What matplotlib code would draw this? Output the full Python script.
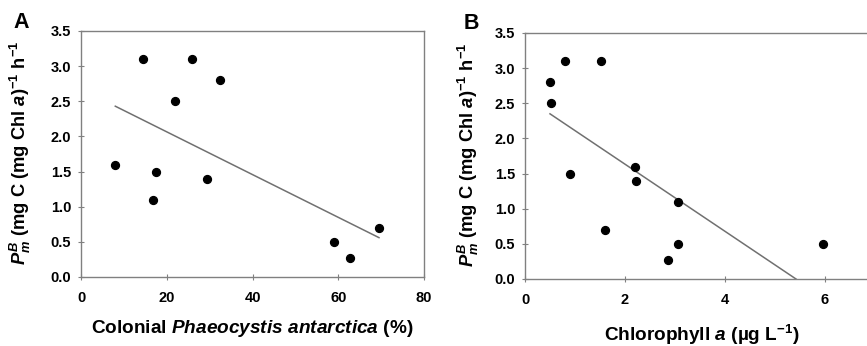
import matplotlib
matplotlib.use("Agg")
import matplotlib.pyplot as plt

plt.rcParams['font.family'] = ['Liberation Sans', 'DejaVu Sans']
plt.rcParams['mathtext.fontset'] = 'custom'
plt.rcParams['mathtext.rm'] = 'Liberation Sans:bold'
plt.rcParams['mathtext.it'] = 'Liberation Sans:bold:italic'
plt.rcParams['mathtext.bf'] = 'Liberation Sans:bold'

# Panel A data
colonial_pct = [8.0, 14.5, 16.8, 17.5, 22.0, 25.8, 29.5, 32.5, 59.0, 62.8, 69.5]
pbm_a = [1.6, 3.1, 1.1, 1.5, 2.5, 3.1, 1.4, 2.8, 0.5, 0.27, 0.7]
fit_a_x = [8.0, 69.5]
fit_a_y = [2.43, 0.56]

# Panel B data
chl_a = [0.50, 0.52, 0.80, 0.90, 1.52, 1.60, 2.20, 2.22, 2.85, 3.05, 3.05, 5.97]
pbm_b = [2.8, 2.5, 3.1, 1.5, 3.1, 0.7, 1.6, 1.4, 0.27, 1.1, 0.5, 0.5]
fit_b_x = [0.5, 5.42]
fit_b_y = [2.35, 0.0]

yticks = [0.0, 0.5, 1.0, 1.5, 2.0, 2.5, 3.0, 3.5]
xticks_a = [0, 20, 40, 60, 80]
xticks_b = [0, 2, 4, 6]
ylabel = r'$P^{B}_{m}$ (mg C (mg Chl $a$)$^{-1}$ h$^{-1}$'

W, H = 867, 346
fig = plt.figure(figsize=(W/100, H/100), dpi=100)

axA = fig.add_axes([81/W, 1-277/H, (424-81)/W, (277-31)/H])
axB = fig.add_axes([525/W, 1-279/H, 400/W, (279-33)/H])

spine_col = '#808080'
for ax in (axA, axB):
    for s in ax.spines.values():
        s.set_color(spine_col)
        s.set_linewidth(1.0)
    ax.tick_params(direction='inout', length=4, width=0.8, color=spine_col,
                   labelsize=10.5)
    ax.tick_params(axis='x', pad=8)
    ax.tick_params(axis='y', pad=5)
    ax.set_ylim(0, 3.5)
    ax.set_yticks(yticks)
    ax.set_yticklabels([f'{v:.1f}' for v in yticks], fontweight='bold')

axA.scatter(colonial_pct, pbm_a, s=32, color='black', zorder=3)
axA.plot(fit_a_x, fit_a_y, color='#707070', lw=1.1)
axA.set_xlim(0, 80)
axA.set_xticks(xticks_a)
axA.set_xticklabels([str(v) for v in xticks_a], fontweight='bold')
axA.set_xlabel(r'Colonial $\mathit{Phaeocystis\ antarctica}$ (%)', fontsize=13.7,
               fontweight='bold')
axA.xaxis.set_label_coords(0.5, -0.167)
axA.set_ylabel(ylabel, fontsize=13.2, fontweight='bold')
axA.yaxis.set_label_coords(-0.14, 0.505)

axB.scatter(chl_a, pbm_b, s=32, color='black', zorder=3)
axB.plot(fit_b_x, fit_b_y, color='#707070', lw=1.1)
axB.set_xlim(0, 8)
axB.set_xticks(xticks_b)
axB.set_xticklabels([str(v) for v in xticks_b], fontweight='bold')
axB.set_xlabel(r'Chlorophyll $a$ (µg L$^{-1}$)', fontsize=13.7,
               fontweight='bold')
axB.xaxis.set_label_coords(0.443, -0.179)
axB.set_ylabel(ylabel, fontsize=13.2, fontweight='bold')
axB.yaxis.set_label_coords(-0.11, 0.505)

fig.text(13/W, 1-28/H, 'A', fontsize=15.5, fontweight='bold', ha='left', va='baseline')
fig.text(464/W, 1-29/H, 'B', fontsize=15.5, fontweight='bold', ha='left', va='baseline')

fig.savefig('out.png', dpi=100)
